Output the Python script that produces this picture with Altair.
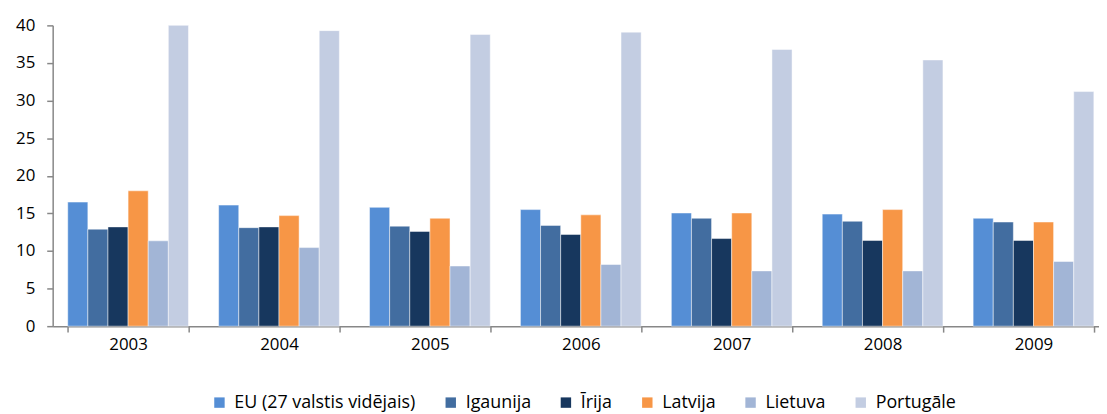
import altair as alt
import pandas as pd

years = ["2003", "2004", "2005", "2006", "2007", "2008", "2009"]
series = ["EU (27 valstis vidējais)", "Igaunija", "Īrija", "Latvija", "Lietuva", "Portugāle"]
colors = ["#558ED5", "#426DA0", "#17375E", "#F79646", "#A2B5D6", "#C3CDE2"]

eu = [16.5, 16.1, 15.8, 15.5, 15.05, 14.9, 14.35]
igaunija = [12.9, 13.1, 13.3, 13.4, 14.35, 13.95, 13.85]
irija = [13.2, 13.2, 12.6, 12.2, 11.65, 11.4, 11.4]
latvija = [18.0, 14.7, 14.35, 14.8, 15.05, 15.5, 13.85]
lietuva = [11.35, 10.45, 8.0, 8.2, 7.35, 7.35, 8.6]
portugale = [40.0, 39.3, 38.8, 39.1, 36.8, 35.4, 31.2]

values = [eu, igaunija, irija, latvija, lietuva, portugale]
rows = []
for s, vals in zip(series, values):
    for y, v in zip(years, vals):
        rows.append({"year": y, "series": s, "value": v})
df = pd.DataFrame(rows)

FONT = "Open Sans"

chart = alt.Chart(df).mark_bar(stroke="white", strokeWidth=0.8, strokeOpacity=0.6).encode(
    x=alt.X("year:N", sort=years, title=None,
            scale=alt.Scale(paddingInner=0.2, paddingOuter=0.067, align=0.745),
            axis=alt.Axis(labelAngle=0, tickBand="extent", domainColor="#878787",
                          domainWidth=1.5, tickColor="#878787", tickWidth=1.5, tickSize=6,
                          labelPadding=5, labelFontSize=17, labelColor="#000000",
                          labelFont=FONT, grid=False)),
    xOffset=alt.XOffset("series:N", sort=series, scale=alt.Scale(paddingInner=0, paddingOuter=0)),
    y=alt.Y("value:Q", title=None,
            scale=alt.Scale(domain=[0, 40], nice=False),
            axis=alt.Axis(values=list(range(0, 41, 5)), domainColor="#878787",
                          domainWidth=1.5, tickColor="#878787", tickWidth=1.5, tickSize=6,
                          labelPadding=12, labelFontSize=17, labelColor="#000000",
                          labelFont=FONT, grid=False)),
    color=alt.Color("series:N", sort=series,
                    scale=alt.Scale(domain=series, range=colors),
                    legend=alt.Legend(title=None, orient="none", direction="horizontal",
                                      legendX=159, legendY=371, symbolType="square",
                                      symbolSize=110, symbolStrokeWidth=0,
                                      labelFontSize=18, labelFont=FONT, labelColor="#000000",
                                      labelLimit=0, columnPadding=26, labelOffset=6)),
).properties(
    width=1054, height=303,
    autosize=alt.AutoSizeParams(type="none"),
    padding={"left": 45, "top": 16, "right": 0, "bottom": 90},
).configure_view(stroke=None)

chart.save("out.html", embed_options={"renderer": "svg", "actions": False})
